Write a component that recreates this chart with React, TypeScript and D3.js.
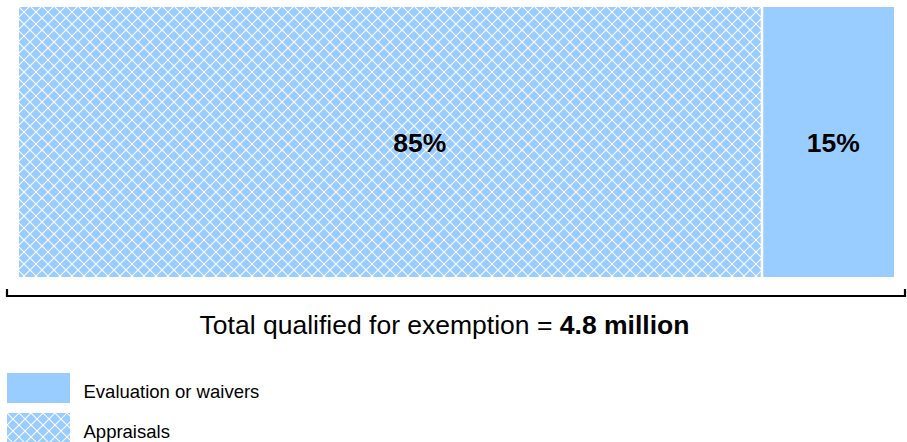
import React from "react";
import * as d3 from "d3";

const categories = ["Appraisals", "Evaluation or waivers"];
const shares = [85, 15];
const labels = ["85%", "15%"];
const legendItems = ["Evaluation or waivers", "Appraisals"];
const legendHatched = [false, true];

const W = 907;
const H = 442;
const FILL = "#99ccff";
const labelDx = [29, 5];

export default function App() {
  const x = d3.scaleLinear().domain([0, 100]).range([19, 894]);
  const stack = d3.cumsum(shares);
  const starts = shares.map((v, i) => stack[i] - v);
  const y0 = 7;
  const y1 = 277;
  const font = "'Liberation Sans', Arial, sans-serif";
  const P = 12;
  return (
    <svg width={W} height={H} style={{ position: "absolute", left: 0, top: 0 }} fontFamily={font}>
      <defs>
        <pattern id="hatch" patternUnits="userSpaceOnUse" width={P} height={P}>
          <rect width={P} height={P} fill={FILL} />
          <path d={`M0,0 L${P},${P} M${P},0 L0,${P}`} stroke="#fff" strokeWidth={1.1} />
        </pattern>
      </defs>
      {categories.map((c, i) => {
        const xs = x(starts[i]);
        const xe = x(starts[i] + shares[i]);
        const gap = i === 0 ? 2 : 0;
        return (
          <g key={c}>
            <rect
              x={xs + (i > 0 ? 0.5 : 0)}
              y={y0}
              width={xe - xs - gap - (i > 0 ? 0.5 : 0)}
              height={y1 - y0}
              fill={i === 0 ? "url(#hatch)" : FILL}
            />
            <text
              x={(xs + xe) / 2 + labelDx[i]}
              y={152}
              textAnchor="middle"
              fontSize={26.5}
              fontWeight="bold"
              fill="#000"
            >
              {labels[i]}
            </text>
          </g>
        );
      })}
      <path d="M7,289 V296 H905 V289" fill="none" stroke="#000" strokeWidth={2.2} />
      <text x={444.5} y={334} textAnchor="middle" fontSize={26.5} fill="#000">
        Total qualified for exemption = <tspan fontWeight="bold">4.8 million</tspan>
      </text>
      {legendItems.map((l, i) => (
        <g key={l} transform={`translate(7, ${373 + i * 40})`}>
          <rect width={63} height={30} fill={legendHatched[i] ? "url(#hatch)" : FILL} />
          <text x={76.5} y={25} fontSize={18.5} fill="#000">
            {l}
          </text>
        </g>
      ))}
    </svg>
  );
}
